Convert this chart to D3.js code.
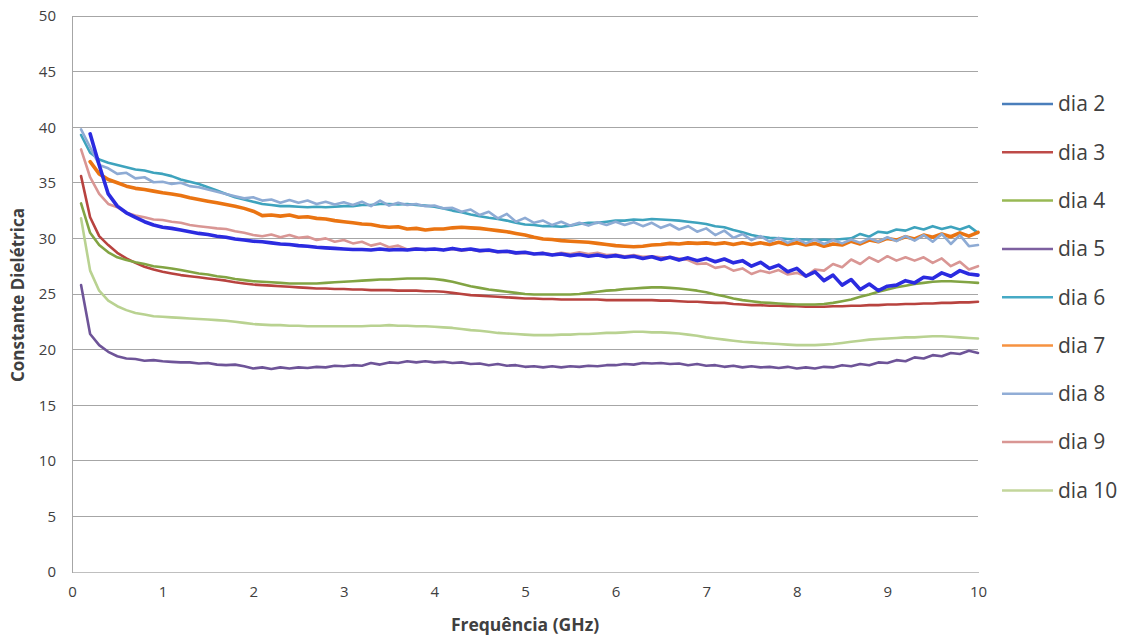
<!DOCTYPE html>
<html>
<head>
<meta charset="utf-8">
<script src="https://cdn.jsdelivr.net/npm/d3@7"></script>
<style>
  body { margin: 0; background: #fff; }
  text { font-family: "Open Sans", "Liberation Sans", sans-serif; fill: #404040; }
</style>
</head>
<body>
<div id="chart"></div>
<script>
// frequency grid (GHz), one sample every 0.1 GHz
const freq = d3.range(1, 101).map(i => i / 10)

const names = ['dia 2', 'dia 3', 'dia 4', 'dia 5', 'dia 6', 'dia 7', 'dia 8', 'dia 9', 'dia 10']
const yTicks = [0, 5, 10, 15, 20, 25, 30, 35, 40, 45, 50]
const xTicks = [0, 1, 2, 3, 4, 5, 6, 7, 8, 9, 10]

const dia2 = [
  null, 39.4, 36.6, 34.0, 32.9, 32.3, 31.9, 31.5, 31.2, 31.0,
  30.9, 30.75, 30.6, 30.45, 30.35, 30.2, 30.1, 29.95, 29.85, 29.75,
  29.7, 29.6, 29.5, 29.45, 29.35, 29.3, 29.2, 29.15, 29.1, 29.05,
  29.0, 29.0, 28.95, 29.05, 28.95, 29.0, 28.95, 29.05, 29.0, 29.05,
  28.95, 29.1, 28.95, 29.05, 28.9, 28.95, 28.8, 28.85, 28.7, 28.75,
  28.6, 28.65, 28.5, 28.6, 28.45, 28.55, 28.4, 28.5, 28.35, 28.45,
  28.3, 28.4, 28.2, 28.35, 28.1, 28.3, 28.05, 28.25, 28.0, 28.2,
  27.9, 28.15, 27.8, 28.0, 27.5, 27.85, 27.3, 27.6, 27.0, 27.3,
  26.6, 27.0, 26.2, 26.7, 25.8, 26.3, 25.4, 25.9, 25.3, 25.7,
  25.8, 26.2, 26.0, 26.5, 26.4, 26.9, 26.6, 27.1, 26.8, 26.7
]
const dia3 = [
  35.6, 31.9, 30.2, 29.4, 28.7, 28.2, 27.8, 27.45, 27.2, 27.0,
  26.85, 26.7, 26.6, 26.5, 26.4, 26.3, 26.2, 26.05, 25.95, 25.85,
  25.8, 25.75, 25.7, 25.65, 25.6, 25.55, 25.5, 25.5, 25.45, 25.45,
  25.4, 25.4, 25.35, 25.35, 25.35, 25.3, 25.3, 25.3, 25.25, 25.25,
  25.2, 25.1, 25.0, 24.9, 24.85, 24.8, 24.75, 24.7, 24.65, 24.6,
  24.6, 24.55, 24.55, 24.5, 24.5, 24.5, 24.5, 24.5, 24.45, 24.45,
  24.45, 24.45, 24.45, 24.45, 24.4, 24.4, 24.35, 24.3, 24.3, 24.25,
  24.2, 24.2, 24.1, 24.05, 24.0, 24.0, 23.95, 23.95, 23.9, 23.9,
  23.85, 23.85, 23.85, 23.9, 23.9, 23.95, 23.95, 24.0, 24.0, 24.05,
  24.05, 24.1, 24.1, 24.15, 24.15, 24.2, 24.2, 24.25, 24.25, 24.3
]
const dia4 = [
  33.15, 30.5, 29.4, 28.75, 28.3, 28.05, 27.85, 27.7, 27.5, 27.4,
  27.3, 27.15, 27.0, 26.85, 26.75, 26.6, 26.5, 26.35, 26.25, 26.15,
  26.1, 26.05, 26.0, 25.95, 25.95, 25.95, 25.95, 26.0, 26.05, 26.1,
  26.15, 26.2, 26.25, 26.3, 26.3, 26.35, 26.4, 26.4, 26.4, 26.35,
  26.25, 26.1, 25.9, 25.7, 25.55, 25.4, 25.3, 25.2, 25.1, 25.0,
  24.95, 24.95, 24.95, 24.95, 24.95, 25.0, 25.1, 25.2, 25.3, 25.35,
  25.45, 25.5, 25.55, 25.6, 25.6, 25.55, 25.5, 25.4, 25.3, 25.15,
  24.95, 24.8, 24.6, 24.45, 24.35, 24.25, 24.2, 24.15, 24.1, 24.05,
  24.05, 24.05, 24.1, 24.2, 24.35, 24.5, 24.75, 24.95, 25.2, 25.4,
  25.6, 25.75, 25.9, 26.0, 26.1, 26.15, 26.15, 26.1, 26.05, 26.0
]
const dia5 = [
  25.8, 21.4, 20.4, 19.8, 19.4, 19.2, 19.15, 19.0, 19.05, 18.95,
  18.9, 18.85, 18.85, 18.75, 18.8, 18.65, 18.6, 18.65, 18.5, 18.3,
  18.4, 18.25, 18.4, 18.3, 18.4, 18.35, 18.45, 18.4, 18.55, 18.5,
  18.6, 18.55, 18.8, 18.65, 18.85, 18.8, 18.95, 18.85, 18.95, 18.85,
  18.9, 18.8, 18.85, 18.7, 18.75, 18.6, 18.7, 18.55, 18.6, 18.45,
  18.5, 18.4, 18.5, 18.4, 18.5, 18.45, 18.55, 18.5, 18.6, 18.6,
  18.7, 18.65, 18.8, 18.75, 18.8, 18.7, 18.75, 18.6, 18.7, 18.55,
  18.6, 18.45, 18.55, 18.4, 18.5, 18.4, 18.45, 18.35, 18.45, 18.3,
  18.4, 18.3, 18.45, 18.4, 18.6, 18.5, 18.7, 18.6, 18.85, 18.8,
  19.05, 18.95, 19.3, 19.2, 19.5, 19.4, 19.7, 19.6, 19.9, 19.7
]
const dia6 = [
  39.3, 37.7, 37.1, 36.8, 36.6, 36.4, 36.2, 36.1, 35.9, 35.8,
  35.6, 35.3, 35.1, 34.9, 34.6, 34.3, 34.0, 33.7, 33.5, 33.3,
  33.1, 33.0, 32.9, 32.9, 32.85, 32.8, 32.85, 32.8, 32.85, 32.9,
  32.9, 33.0, 33.0, 33.1, 33.1, 33.05, 33.1, 33.0, 32.95, 32.85,
  32.7, 32.5, 32.35, 32.15, 32.0, 31.85, 31.75, 31.6, 31.4, 31.25,
  31.2, 31.1, 31.1, 31.05, 31.15, 31.3, 31.4, 31.4, 31.5, 31.6,
  31.6, 31.7, 31.65, 31.75, 31.7, 31.65, 31.6, 31.5, 31.4, 31.3,
  31.1, 31.0, 30.75, 30.55, 30.3, 30.15, 30.05, 30.0, 29.95, 29.9,
  29.9, 29.85, 29.9, 29.85, 29.95, 30.0, 30.4, 30.15, 30.6, 30.5,
  30.8, 30.7, 31.0, 30.8, 31.1, 30.85, 31.05, 30.8, 31.1, 30.5
]
const dia7 = [
  null, 36.9, 35.8, 35.3, 35.0, 34.7, 34.5, 34.4, 34.25, 34.1,
  34.0, 33.85, 33.65, 33.5, 33.35, 33.2, 33.05, 32.9, 32.7, 32.45,
  32.05, 32.1, 32.0, 32.1, 31.9, 31.95, 31.8, 31.75, 31.6, 31.5,
  31.4, 31.3, 31.25, 31.1, 31.0, 31.05, 30.85, 30.9, 30.75, 30.85,
  30.85, 30.95, 31.0, 30.95, 30.9, 30.8, 30.7, 30.6, 30.45, 30.3,
  30.1, 29.95, 29.9, 29.8, 29.75, 29.7, 29.65, 29.55, 29.45, 29.35,
  29.3, 29.25, 29.3, 29.4, 29.45, 29.55, 29.5, 29.6, 29.55, 29.6,
  29.5, 29.6, 29.45, 29.6, 29.45, 29.6, 29.45, 29.65, 29.45, 29.6,
  29.4, 29.55, 29.3, 29.5, 29.4, 29.75, 29.5, 29.85, 29.7, 30.0,
  29.85, 30.15, 29.95, 30.3, 30.1, 30.4, 30.15, 30.5, 30.2, 30.55
]
const dia8 = [
  39.8, 38.2, 36.6, 36.3, 35.8, 35.9, 35.4, 35.5, 35.05, 35.1,
  34.9, 35.0, 34.7, 34.6, 34.4, 34.2, 34.0, 33.8, 33.6, 33.7,
  33.4, 33.5, 33.2, 33.45, 33.2, 33.4, 33.1, 33.3, 33.05, 33.25,
  33.0, 33.3, 32.9, 33.4, 32.95, 33.2, 33.0, 33.1, 32.9, 32.95,
  32.7, 32.75, 32.4, 32.6, 32.1, 32.4, 31.8, 32.2, 31.5, 31.85,
  31.4, 31.6, 31.2, 31.5, 31.15, 31.4, 31.15, 31.45, 31.2, 31.5,
  31.2, 31.45, 31.1, 31.4, 30.95, 31.25, 30.8, 31.1, 30.6, 30.9,
  30.3, 30.7, 30.05, 30.4, 29.85, 30.2, 29.7, 30.05, 29.6, 29.95,
  29.55, 29.9, 29.5, 29.85, 29.55, 29.9, 29.6, 30.0, 29.7, 30.1,
  29.75, 30.2, 29.8, 30.3, 29.7, 30.4, 29.5, 30.3, 29.3, 29.4
]
const dia9 = [
  38.0, 35.5, 34.0, 33.1, 32.8, 32.3, 32.05, 31.9, 31.7, 31.65,
  31.5, 31.4, 31.2, 31.1, 31.0, 30.9, 30.85, 30.65, 30.5, 30.3,
  30.2, 30.35, 30.1, 30.3, 30.05, 30.15, 29.85, 30.0, 29.7, 29.85,
  29.55, 29.7, 29.35, 29.55, 29.2, 29.35, 29.0, 29.1, 28.95, 29.05,
  28.95, 29.05, 28.9, 29.0, 28.85, 28.9, 28.75, 28.8, 28.65, 28.7,
  28.6, 28.7, 28.55, 28.7, 28.6, 28.75, 28.6, 28.7, 28.5, 28.55,
  28.4, 28.5, 28.35, 28.4, 28.3, 28.3, 28.2, 28.05, 27.7, 27.75,
  27.35, 27.5, 27.1, 27.3, 26.8, 27.1, 26.9, 27.15, 26.75, 26.9,
  26.6, 27.2, 27.1, 27.7, 27.4, 28.1, 27.7, 28.3, 27.9, 28.4,
  28.0, 28.3, 28.0, 28.3, 27.8, 28.2, 27.5, 27.9, 27.2, 27.5
]
const dia10 = [
  31.8, 27.1, 25.3, 24.4, 23.9, 23.55, 23.3, 23.15, 23.0, 22.95,
  22.9, 22.85, 22.8, 22.75, 22.7, 22.65, 22.6, 22.5, 22.4, 22.3,
  22.25, 22.2, 22.2, 22.15, 22.15, 22.1, 22.1, 22.1, 22.1, 22.1,
  22.1, 22.1, 22.15, 22.15, 22.2, 22.15, 22.15, 22.1, 22.1, 22.05,
  22.0, 21.95, 21.85, 21.75, 21.7, 21.6, 21.5, 21.45, 21.4, 21.35,
  21.3, 21.3, 21.3, 21.35, 21.35, 21.4, 21.4, 21.45, 21.5, 21.5,
  21.55, 21.6, 21.6, 21.55, 21.55, 21.5, 21.45, 21.35, 21.25, 21.1,
  21.0, 20.9, 20.8, 20.7, 20.65, 20.6, 20.55, 20.5, 20.45, 20.4,
  20.4, 20.4, 20.45, 20.5, 20.6, 20.7, 20.8, 20.9, 20.95, 21.0,
  21.05, 21.1, 21.1, 21.15, 21.2, 21.2, 21.15, 21.1, 21.05, 21.0
]

const values = [dia2, dia3, dia4, dia5, dia6, dia7, dia8, dia9, dia10]
// line colour in the plot, colour of the legend key, stroke width
const lineColors = ['#2b2be0', '#b8433f', '#82a443', '#6e5498', '#3ea3bd', '#ea7412', '#8eabd4', '#d99694', '#b9d291']
const keyColors = ['#4a7ebb', '#be4b48', '#98b954', '#7d60a0', '#46aac5', '#f69240', '#91add6', '#d99694', '#c3d69b']
const widths = [3.6, 2.6, 2.6, 2.6, 2.6, 3.6, 2.6, 2.6, 2.6]

const W = 1133
const H = 638
const margin = { top: 16, right: 155, bottom: 66, left: 72 }

const svg = d3.select('#chart').append('svg')
  .attr('width', W)
  .attr('height', H)

const x = d3.scaleLinear().domain([0, 10]).range([margin.left, W - margin.right])
const y = d3.scaleLinear().domain([0, 50]).range([H - margin.bottom, margin.top])

// horizontal gridlines
svg.append('g')
  .selectAll('line')
  .data(yTicks.slice(1))
  .join('line')
  .attr('x1', x(0))
  .attr('x2', x(10))
  .attr('y1', d => y(d))
  .attr('y2', d => y(d))
  .attr('stroke', '#a6a6a6')
  .attr('stroke-width', 1)
  .attr('shape-rendering', 'crispEdges')

// y axis
const yAxis = svg.append('g')
  .attr('transform', `translate(${x(0)},0)`)
  .call(d3.axisLeft(y).tickValues(yTicks).tickSize(0).tickPadding(16))
yAxis.select('.domain').attr('stroke', '#a6a6a6').attr('shape-rendering', 'crispEdges')
yAxis.selectAll('text').style('font-size', '15px').attr('fill', '#404040')

// x axis
const xAxis = svg.append('g')
  .attr('transform', `translate(0,${y(0)})`)
  .call(d3.axisBottom(x).tickValues(xTicks).tickSize(0).tickPadding(14))
xAxis.select('.domain').attr('stroke', '#bfbfbf').attr('shape-rendering', 'crispEdges')
xAxis.selectAll('text').style('font-size', '15px').attr('fill', '#404040')

// axis titles
svg.append('text')
  .attr('x', (x(0) + x(10)) / 2)
  .attr('y', 631)
  .attr('text-anchor', 'middle')
  .style('font-size', '17.5px')
  .style('font-weight', 'bold')
  .text('Frequência (GHz)')

svg.append('text')
  .attr('transform', `translate(24,${(y(0) + y(50)) / 2 + 1}) rotate(-90)`)
  .attr('text-anchor', 'middle')
  .style('font-size', '17px')
  .style('font-weight', 'bold')
  .text('Constante Dielétrica')

// series
const series = names.map((name, i) => ({
  name,
  i,
  points: freq.map((f, j) => ({ f, v: values[i][j] }))
}))

const line = d3.line()
  .defined(d => d.v != null)
  .x(d => x(d.f))
  .y(d => y(d.v))

// dia 2 sits on top of the others in the original
const drawOrder = series.slice(1).concat(series.slice(0, 1))

svg.append('g')
  .selectAll('path')
  .data(drawOrder)
  .join('path')
  .attr('d', d => line(d.points))
  .attr('fill', 'none')
  .attr('stroke', d => lineColors[d.i])
  .attr('stroke-width', d => widths[d.i])
  .attr('stroke-linejoin', 'round')
  .attr('stroke-linecap', 'round')

// legend
const legend = svg.append('g')
  .selectAll('g')
  .data(series)
  .join('g')
  .attr('transform', (d, i) => `translate(1002,${104 + i * 48.3})`)

legend.append('line')
  .attr('x1', 0)
  .attr('x2', 51)
  .attr('stroke', d => keyColors[d.i])
  .attr('stroke-width', 2.5)

legend.append('text')
  .attr('x', 56)
  .attr('dy', '0.35em')
  .style('font-size', '21px')
  .attr('fill', '#262626')
  .text(d => d.name)
</script>
</body>
</html>
